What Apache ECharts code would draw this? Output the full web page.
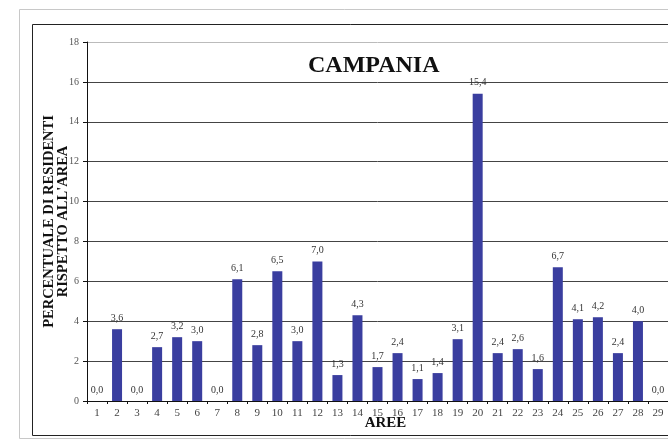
<!DOCTYPE html>
<html><head><meta charset="utf-8">
<script src="https://cdn.jsdelivr.net/npm/echarts@6/dist/echarts.min.js"></script>
<style>html,body{margin:0;padding:0;background:#fff}#c{width:668px;height:442px}</style>
</head><body><div id="c"></div>
<script>
const categories = ['1','2','3','4','5','6','7','8','9','10','11','12','13','14','15','16','17','18','19','20','21','22','23','24','25','26','27','28','29'];
const values = [0.0,3.6,0.0,2.7,3.2,3.0,0.0,6.1,2.8,6.5,3.0,7.0,1.3,4.3,1.7,2.4,1.1,1.4,3.1,15.4,2.4,2.6,1.6,6.7,4.1,4.2,2.4,4.0,0.0];
const titleText = 'CAMPANIA';
const yName = "PERCENTUALE DI RESIDENTI\nRISPETTO ALL'AREA";
const xName = 'AREE';

const serif = "'Liberation Serif', 'DejaVu Serif', serif";
const chart = echarts.init(document.getElementById('c'), null, {renderer:'canvas'});
chart.setOption({
  animation: false,
  backgroundColor: '#fff',
  graphic: [
    {type:'rect', shape:{x:19.5,y:9.5,width:700,height:429}, style:{fill:'none',stroke:'#c8c8c8',lineWidth:1}, z:-10},
    {type:'rect', shape:{x:32.5,y:24.5,width:700,height:411}, style:{fill:'none',stroke:'#222',lineWidth:1}, z:-10}
  ],
  title: {
    text: titleText, left: 303, top: 49,
    textStyle: {fontFamily: serif, fontSize: 24, fontWeight: 'bold', color: '#111'}
  },
  grid: {left: 87, right: 0, top: 42, bottom: 41, containLabel: false, outerBoundsMode: 'none'},
  xAxis: {
    type: 'category', data: categories, boundaryGap: true,
    name: xName, nameLocation: 'middle', nameGap: 15, nameMoveOverlap: false,
    nameTextStyle: {fontFamily: serif, fontSize: 15, fontWeight: 'bold', color: '#111', padding: [0, 0, 0, 16]},
    axisLine: {lineStyle: {color: '#111', width: 1}},
    axisTick: {show: true, alignWithLabel: false, length: 3, lineStyle: {color: '#111'}},
    axisLabel: {fontFamily: serif, fontSize: 11, color: '#444', margin: 7}
  },
  yAxis: {
    type: 'value', min: 0, max: 18, interval: 2,
    name: yName, nameLocation: 'middle', nameGap: 17, nameRotate: 90, nameMoveOverlap: false,
    nameTextStyle: {fontFamily: serif, fontSize: 14.5, fontWeight: 'bold', color: '#111', lineHeight: 14},
    axisLine: {show: true, lineStyle: {color: '#111', width: 1}},
    axisTick: {show: true, length: 4, lineStyle: {color: '#111'}},
    axisLabel: {fontFamily: serif, fontSize: 10, color: '#555', margin: 8},
    splitLine: {show: true, lineStyle: {color: ['#444','#444','#444','#444','#444','#444','#444','#444','#444','#bbb'], width: 1}}
  },
  series: [{
    type: 'bar', data: values, barWidth: 10,
    itemStyle: {color: '#3a3e9f'},
    label: {
      show: true, position: 'top', distance: 6,
      fontFamily: serif, fontSize: 10, color: '#333',
      formatter: p => p.value.toFixed(1).replace('.', ',')
    }
  }]
});
</script></body></html>
